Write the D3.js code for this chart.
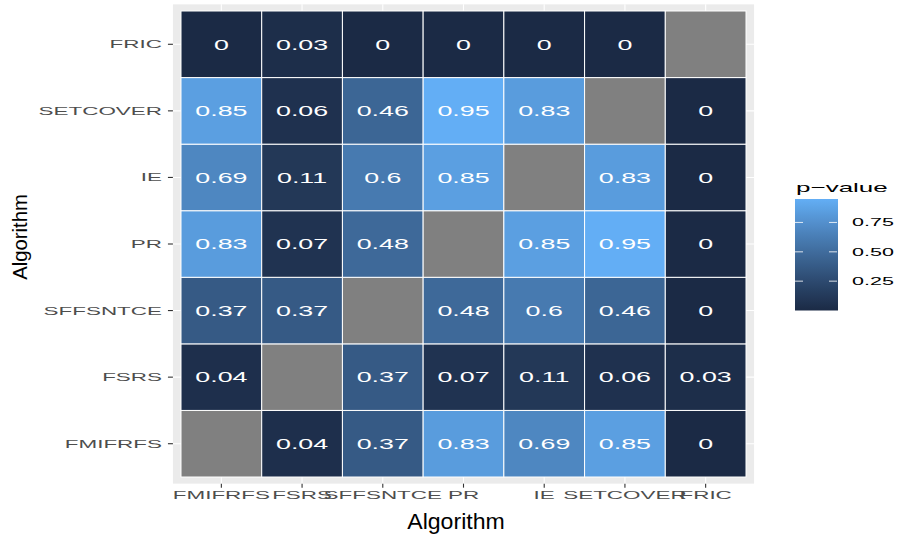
<!DOCTYPE html>
<html>
<head>
<meta charset="utf-8">
<script src="https://cdn.jsdelivr.net/npm/d3@7"></script>
<style>
  html, body { margin: 0; padding: 0; background: #ffffff; }
  svg { display: block; font-family: "Liberation Sans", Arial, Helvetica, sans-serif; }
</style>
</head>
<body>
<svg id="chart" width="900" height="538"></svg>
<script>
// Pairwise p-values between feature-selection algorithms
const algorithms = ["FMIFRFS", "FSRS", "SFFSNTCE", "PR", "IE", "SETCOVER", "FRIC"];
// one row per algorithm (y), columns follow `algorithms` (x); null = comparison with itself
const pFMIFRFS  = [null, 0.04, 0.37, 0.83, 0.69, 0.85, 0];
const pFSRS     = [0.04, null, 0.37, 0.07, 0.11, 0.06, 0.03];
const pSFFSNTCE = [0.37, 0.37, null, 0.48, 0.6, 0.46, 0];
const pPR       = [0.83, 0.07, 0.48, null, 0.85, 0.95, 0];
const pIE       = [0.69, 0.11, 0.6, 0.85, null, 0.83, 0];
const pSETCOVER = [0.85, 0.06, 0.46, 0.95, 0.83, null, 0];
const pFRIC     = [0, 0.03, 0, 0, 0, 0, null];
const legendTicks = [0.25, 0.50, 0.75];
const legendTickLabels = ["0.25", "0.50", "0.75"];

const rowsData = [pFMIFRFS, pFSRS, pSFFSNTCE, pPR, pIE, pSETCOVER, pFRIC];
const cells = [];
rowsData.forEach((row, i) => row.forEach((v, j) => {
  cells.push({ xName: algorithms[j], yName: algorithms[i], value: v });
}));

const svg = d3.select("#chart");

// cell area and panel (panel extends 0.1 cell beyond the tiles)
const x = d3.scaleBand().domain(algorithms).range([181, 746]).padding(0);
const y = d3.scaleBand().domain(algorithms.slice().reverse()).range([11, 477]).padding(0);
const padX = x.bandwidth() * 0.1, padY = y.bandwidth() * 0.1;
const panel = { x0: 181 - padX, x1: 746 + padX, y0: 11 - padY, y1: 477 + padY };

const lo = "#1B2A45", hi = "#63AEF5";
const color = d3.scaleLinear().domain([0, 0.95]).range([lo, hi]).interpolate(d3.interpolateLab);

// panel background
svg.append("rect")
  .attr("x", panel.x0).attr("y", panel.y0)
  .attr("width", panel.x1 - panel.x0).attr("height", panel.y1 - panel.y0)
  .attr("fill", "#EBEBEB");

// major grid lines
const grid = svg.append("g").attr("stroke", "#ffffff").attr("stroke-width", 1.1);
algorithms.forEach(a => {
  const cx = x(a) + x.bandwidth() / 2;
  grid.append("line").attr("x1", cx).attr("x2", cx).attr("y1", panel.y0).attr("y2", panel.y1);
  const cy = y(a) + y.bandwidth() / 2;
  grid.append("line").attr("y1", cy).attr("y2", cy).attr("x1", panel.x0).attr("x2", panel.x1);
});

// tiles
svg.append("g").selectAll("rect").data(cells).join("rect")
  .attr("x", d => x(d.xName)).attr("y", d => y(d.yName))
  .attr("width", x.bandwidth()).attr("height", y.bandwidth())
  .attr("fill", d => d.value === null ? "#808080" : color(d.value))
  .attr("stroke", "#ffffff").attr("stroke-width", 1);

// value labels
svg.append("g").selectAll("text").data(cells.filter(d => d.value !== null)).join("text")
  .attr("transform", d => `translate(${x(d.xName) + x.bandwidth() / 2},${y(d.yName) + y.bandwidth() / 2}) scale(1.85,1)`)
  .attr("text-anchor", "middle").attr("dy", "0.36em")
  .attr("font-size", 14.5).attr("fill", "#ffffff")
  .text(d => String(d.value));

// axes
const tickScale = 2.04;
const yAxis = svg.append("g").attr("transform", `translate(${panel.x0},0)`)
  .call(d3.axisLeft(y).tickSize(5).tickPadding(5));
yAxis.select(".domain").remove();
yAxis.selectAll(".tick line").attr("stroke", "#333333").attr("stroke-width", 1.1);
yAxis.selectAll(".tick text")
  .attr("font-size", 11).attr("fill", "#4D4D4D").attr("font-family", null)
  .attr("x", -11 / tickScale).attr("dy", "0.36em")
  .attr("transform", `scale(${tickScale},1)`);

const xAxis = svg.append("g").attr("transform", `translate(0,${panel.y1})`)
  .call(d3.axisBottom(x).tickSize(4).tickPadding(4));
xAxis.select(".domain").remove();
xAxis.selectAll(".tick line").attr("stroke", "#333333").attr("stroke-width", 1.1);
xAxis.selectAll(".tick text")
  .attr("font-size", 11).attr("fill", "#4D4D4D").attr("font-family", null)
  .attr("y", 8).attr("dy", "0.71em")
  .attr("transform", `scale(${tickScale},1)`);

// axis titles
svg.append("text")
  .attr("transform", "translate(456,529) scale(1.05,1)")
  .attr("text-anchor", "middle").attr("font-size", 22).attr("fill", "#000000")
  .text("Algorithm");
svg.append("text")
  .attr("transform", "translate(27,237) rotate(-90) scale(1.04,1)")
  .attr("text-anchor", "middle").attr("font-size", 19.5).attr("fill", "#000000")
  .text("Algorithm");

// colour bar legend
const bar = { x0: 795, x1: 838, y0: 199, y1: 310.5 };
const barScale = d3.scaleLinear().domain([0, 0.95]).range([bar.y1, bar.y0]);
const defs = svg.append("defs");
const grad = defs.append("linearGradient").attr("id", "pgrad")
  .attr("x1", 0).attr("y1", 1).attr("x2", 0).attr("y2", 0);
d3.range(0, 1.0001, 0.05).forEach(t => {
  grad.append("stop").attr("offset", t).attr("stop-color", color(t * 0.95));
});
svg.append("rect")
  .attr("x", bar.x0).attr("y", bar.y0)
  .attr("width", bar.x1 - bar.x0).attr("height", bar.y1 - bar.y0)
  .attr("fill", "url(#pgrad)");

const lt = svg.append("g");
legendTicks.forEach((v, i) => {
  const ty = barScale(v);
  lt.append("line").attr("x1", bar.x0).attr("x2", bar.x0 + 8).attr("y1", ty).attr("y2", ty)
    .attr("stroke", "#ffffff").attr("stroke-opacity", 0.75).attr("stroke-width", 1.1);
  lt.append("line").attr("x1", bar.x1 - 9).attr("x2", bar.x1 - 1).attr("y1", ty).attr("y2", ty)
    .attr("stroke", "#ffffff").attr("stroke-opacity", 0.75).attr("stroke-width", 1.1);
  lt.append("text")
    .attr("transform", `translate(852,${ty}) scale(2.05,1)`)
    .attr("dy", "0.36em").attr("font-size", 10.5).attr("fill", "#000000")
    .text(legendTickLabels[i]);
});
svg.append("text")
  .attr("transform", "translate(796,192) scale(2.0,1)")
  .attr("font-size", 13).attr("fill", "#000000")
  .text("p\u2212value");
</script>
</body>
</html>
